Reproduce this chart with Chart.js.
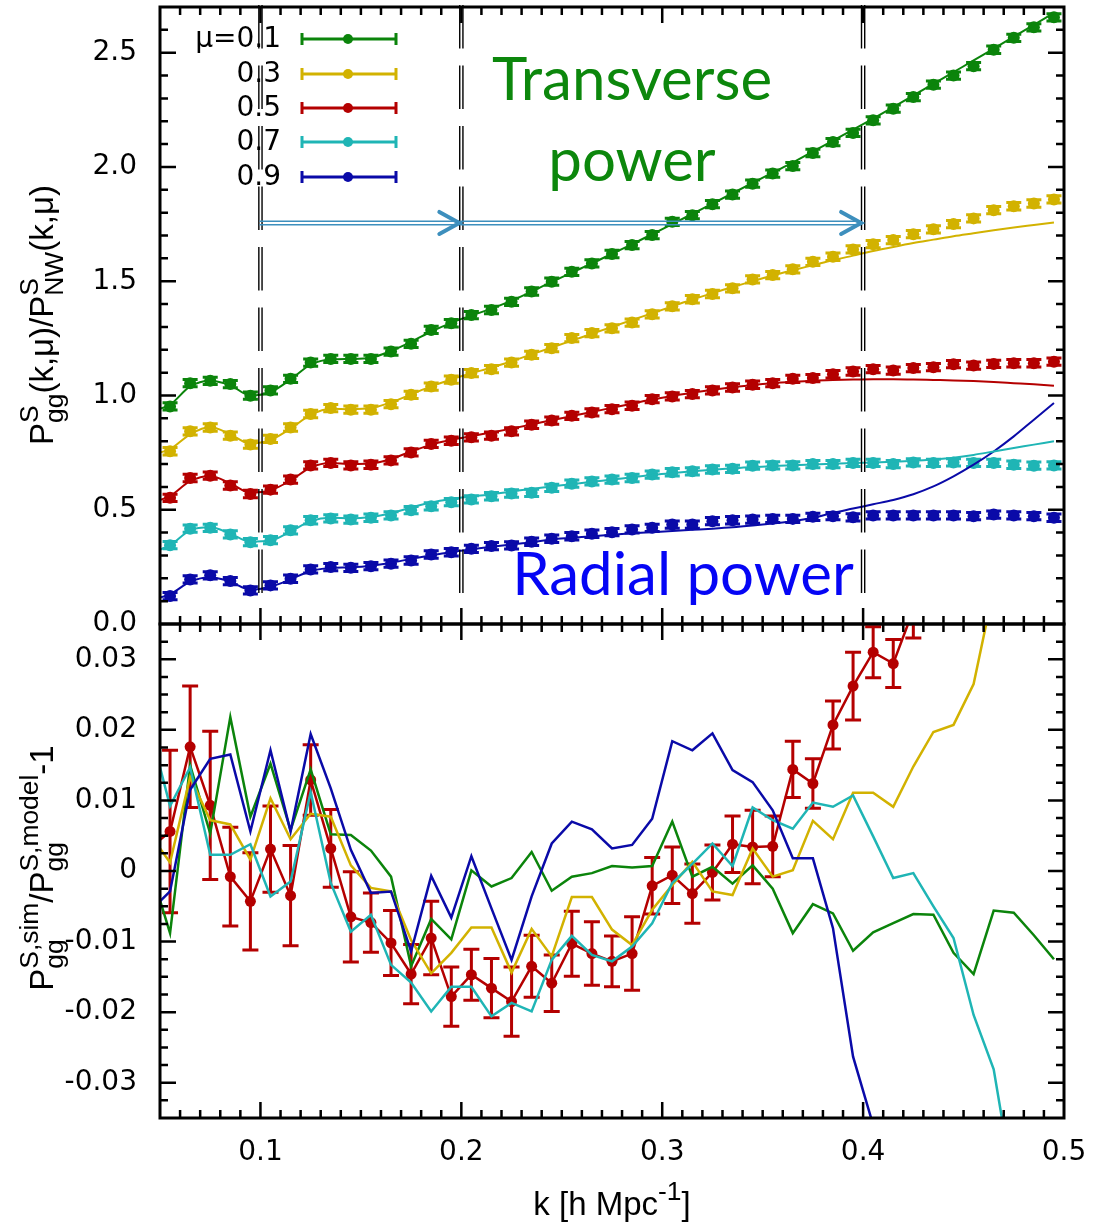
<!DOCTYPE html>
<html>
<head>
<meta charset="utf-8">
<title>Redshift-space galaxy power ratio</title>
<script src="https://cdn.jsdelivr.net/npm/chart.js@4.4.1/dist/chart.umd.min.js"></script>
<style>
  html, body { margin: 0; padding: 0; background: #fff; }
  #wrap { position: relative; width: 1093px; height: 1224px; overflow: hidden; }
  #wrap canvas { position: absolute; left: 0; }
  #topChart { top: -10px; }
  #botChart { top: 600px; }
</style>
</head>
<body>
<div id="wrap">
  <canvas id="topChart" width="1093" height="680"></canvas>
  <canvas id="botChart" width="1093" height="624"></canvas>
</div>
<script>
// k bins [h/Mpc]
const kBins = [0.045, 0.055, 0.065, 0.075, 0.085, 0.095, 0.105, 0.115, 0.125, 0.135,
  0.145, 0.155, 0.165, 0.175, 0.185, 0.195, 0.205, 0.215, 0.225, 0.235,
  0.245, 0.255, 0.265, 0.275, 0.285, 0.295, 0.305, 0.315, 0.325, 0.335,
  0.345, 0.355, 0.365, 0.375, 0.385, 0.395, 0.405, 0.415, 0.425, 0.435,
  0.445, 0.455, 0.465, 0.475, 0.485, 0.495];

const muLabels = ['\u03bc=0.1', '0.3', '0.5', '0.7', '0.9'];
const muColors = ['#0b840b', '#d2b200', '#b40000', '#1fb5b5', '#0a0aa8'];

// tick labels
const kTicks = [0.1, 0.2, 0.3, 0.4, 0.5];
const ratioTicks = [0, 0.5, 1.0, 1.5, 2.0, 2.5];
const resTicks = [-0.03, -0.02, -0.01, 0, 0.01, 0.02, 0.03];

// top panel: simulation points
const simMu01 = [0.920, 0.952, 1.054, 1.064, 1.050, 0.999, 1.022, 1.073, 1.144, 1.160,
  1.160, 1.160, 1.192, 1.226, 1.287, 1.316, 1.352, 1.374, 1.410, 1.455,
  1.498, 1.541, 1.578, 1.619, 1.658, 1.702, 1.760, 1.789, 1.837, 1.879,
  1.927, 1.971, 2.004, 2.061, 2.109, 2.149, 2.204, 2.255, 2.306, 2.360,
  2.400, 2.441, 2.513, 2.565, 2.611, 2.655];
const simMu03 = [0.735, 0.756, 0.843, 0.860, 0.824, 0.785, 0.810, 0.860, 0.919, 0.945,
  0.938, 0.938, 0.962, 1.003, 1.039, 1.069, 1.098, 1.115, 1.144, 1.178,
  1.207, 1.251, 1.273, 1.294, 1.319, 1.355, 1.390, 1.421, 1.444, 1.469,
  1.508, 1.527, 1.552, 1.585, 1.607, 1.639, 1.662, 1.680, 1.706, 1.727,
  1.750, 1.775, 1.811, 1.828, 1.840, 1.858];
const simMu05 = [0.525, 0.552, 0.639, 0.649, 0.606, 0.569, 0.588, 0.632, 0.694, 0.705,
  0.694, 0.697, 0.716, 0.751, 0.788, 0.802, 0.817, 0.824, 0.843, 0.872,
  0.890, 0.911, 0.926, 0.940, 0.955, 0.984, 0.996, 1.006, 1.022, 1.035,
  1.047, 1.054, 1.073, 1.076, 1.093, 1.105, 1.115, 1.109, 1.120, 1.124,
  1.137, 1.131, 1.138, 1.141, 1.141, 1.148];
const simMu07 = [0.305, 0.345, 0.417, 0.421, 0.392, 0.358, 0.367, 0.410, 0.454, 0.462,
  0.457, 0.465, 0.475, 0.498, 0.515, 0.533, 0.545, 0.559, 0.571, 0.574,
  0.596, 0.614, 0.624, 0.632, 0.639, 0.654, 0.664, 0.668, 0.676, 0.679,
  0.693, 0.694, 0.694, 0.700, 0.700, 0.705, 0.705, 0.700, 0.707, 0.705,
  0.707, 0.705, 0.705, 0.697, 0.693, 0.694];
const simMu09 = [0.100, 0.122, 0.195, 0.213, 0.188, 0.147, 0.169, 0.198, 0.239, 0.249,
  0.246, 0.253, 0.264, 0.278, 0.304, 0.314, 0.329, 0.341, 0.344, 0.360,
  0.373, 0.384, 0.395, 0.402, 0.414, 0.421, 0.435, 0.435, 0.450, 0.454,
  0.457, 0.460, 0.460, 0.469, 0.472, 0.467, 0.475, 0.475, 0.475, 0.475,
  0.475, 0.472, 0.479, 0.475, 0.472, 0.465];
const simErr = [0.016, 0.016, 0.016, 0.016, 0.016];

// top panel: model curves
const modelMu01 = [0.930, 0.960, 1.040, 1.065, 1.045, 1.000, 1.015, 1.070, 1.135, 1.158,
  1.160, 1.165, 1.195, 1.235, 1.280, 1.318, 1.350, 1.380, 1.415, 1.455,
  1.497, 1.538, 1.578, 1.620, 1.662, 1.706, 1.750, 1.795, 1.840, 1.885,
  1.930, 1.975, 2.020, 2.068, 2.115, 2.163, 2.212, 2.262, 2.313, 2.364,
  2.415, 2.466, 2.518, 2.570, 2.622, 2.674];
const modelMu03 = [0.740, 0.765, 0.830, 0.862, 0.830, 0.790, 0.805, 0.855, 0.915, 0.942,
  0.940, 0.945, 0.970, 1.005, 1.040, 1.070, 1.097, 1.122, 1.150, 1.180,
  1.210, 1.240, 1.270, 1.300, 1.330, 1.360, 1.390, 1.420, 1.448, 1.475,
  1.500, 1.525, 1.548, 1.570, 1.592, 1.612, 1.632, 1.650, 1.667, 1.682,
  1.697, 1.710, 1.723, 1.735, 1.746, 1.757];
const modelMu05 = [0.530, 0.560, 0.625, 0.648, 0.615, 0.575, 0.585, 0.628, 0.685, 0.705,
  0.700, 0.702, 0.722, 0.755, 0.785, 0.805, 0.822, 0.838, 0.855, 0.873,
  0.892, 0.910, 0.928, 0.946, 0.964, 0.982, 0.998, 1.012, 1.025, 1.036,
  1.046, 1.054, 1.060, 1.065, 1.068, 1.070, 1.071, 1.071, 1.070, 1.068,
  1.066, 1.063, 1.059, 1.054, 1.049, 1.043];
const modelMu07 = [0.310, 0.345, 0.410, 0.423, 0.395, 0.360, 0.365, 0.405, 0.450, 0.465,
  0.462, 0.468, 0.485, 0.510, 0.532, 0.547, 0.558, 0.568, 0.580, 0.592,
  0.602, 0.612, 0.622, 0.632, 0.642, 0.652, 0.660, 0.668, 0.675, 0.681,
  0.687, 0.691, 0.695, 0.698, 0.701, 0.704, 0.707, 0.710, 0.714, 0.720,
  0.728, 0.740, 0.755, 0.770, 0.785, 0.800];
const modelMu09 = [0.105, 0.130, 0.185, 0.205, 0.185, 0.150, 0.163, 0.195, 0.232, 0.245,
  0.248, 0.255, 0.268, 0.285, 0.300, 0.315, 0.327, 0.338, 0.348, 0.358,
  0.370, 0.377, 0.384, 0.391, 0.397, 0.402, 0.407, 0.412, 0.417, 0.423,
  0.431, 0.440, 0.450, 0.465, 0.486, 0.505, 0.524, 0.543, 0.568, 0.602,
  0.646, 0.697, 0.755, 0.821, 0.894, 0.967];

// bottom panel: sim/model - 1
const resMu01 = [0.0005, -0.0088, 0.0150, 0.0053, 0.0218, 0.0077, 0.0152, 0.0058, 0.0144, 0.0052,
  0.0051, 0.0029, -0.0008, -0.0135, -0.0068, -0.0097, 0.0001, -0.0022, -0.0010, 0.0027,
  -0.0028, -0.0008, -0.0003, 0.0007, 0.0005, 0.0007, 0.0070, -0.0008, 0.0006, -0.0018,
  0.0008, -0.0025, -0.0088, -0.0047, -0.0060, -0.0113, -0.0087, -0.0074, -0.0061, -0.0062,
  -0.0116, -0.0146, -0.0056, -0.0059, -0.0091, -0.0125];
const resMu03 = [0.0052, 0.0012, 0.0133, 0.0072, 0.0066, 0.0016, 0.0103, 0.0045, 0.0081, 0.0077,
  0.0008, -0.0024, -0.0029, -0.0098, -0.0145, -0.0116, -0.0080, -0.0080, -0.0144, -0.0082,
  -0.0121, -0.0037, -0.0037, -0.0083, -0.0105, -0.0055, -0.0020, 0.0013, -0.0029, -0.0034,
  0.0032, -0.0008, 0.0001, 0.0071, 0.0045, 0.0111, 0.0111, 0.0091, 0.0148, 0.0197,
  0.0207, 0.0265, 0.0400, null, null, null];
const resMu05 = [0.0032, 0.0056, 0.0176, 0.0093, -0.0008, -0.0043, 0.0031, -0.0035, 0.0129, 0.0032,
  -0.0065, -0.0073, -0.0102, -0.0146, -0.0095, -0.0178, -0.0147, -0.0166, -0.0185, -0.0135,
  -0.0159, -0.0103, -0.0117, -0.0128, -0.0117, -0.0021, -0.0006, -0.0032, -0.0002, 0.0038,
  0.0034, 0.0035, 0.0144, 0.0124, 0.0207, 0.0262, 0.0310, 0.0294, 0.0370, null,
  null, null, null, null, null, null];
const errMu05 = [0.0110, 0.0115, 0.0086, 0.0105, 0.0070, 0.0069, 0.0061, 0.0071, 0.0050, 0.0055,
  0.0064, 0.0042, 0.0046, 0.0042, 0.0052, 0.0042, 0.0036, 0.0042, 0.0049, 0.0044,
  0.0040, 0.0046, 0.0045, 0.0036, 0.0052, 0.0040, 0.0040, 0.0042, 0.0039, 0.0040,
  0.0052, 0.0043, 0.0040, 0.0035, 0.0034, 0.0048, 0.0036, 0.0034, 0.0040, null,
  null, null, null, null, null, null];
const resMu07 = [0.0202, 0.0092, 0.0147, 0.0023, 0.0023, 0.0038, -0.0036, -0.0015, 0.0112, -0.0017,
  -0.0086, -0.0062, -0.0133, -0.0158, -0.0199, -0.0164, -0.0164, -0.0206, -0.0187, -0.0199,
  -0.0126, -0.0092, -0.0119, -0.0128, -0.0107, -0.0074, -0.0017, 0.0010, 0.0039, 0.0007,
  0.0090, 0.0072, 0.0060, 0.0097, 0.0091, 0.0107, 0.0049, -0.0010, -0.0003, -0.0050,
  -0.0095, -0.0204, -0.0281, -0.0450, null, null];
const resMu09 = [-0.0057, -0.0029, 0.0115, 0.0159, 0.0165, 0.0056, 0.0171, 0.0056, 0.0194, 0.0117,
  0.0030, -0.0031, -0.0029, -0.0114, -0.0007, -0.0066, 0.0021, -0.0053, -0.0126, -0.0036,
  0.0039, 0.0070, 0.0059, 0.0032, 0.0037, 0.0074, 0.0184, 0.0171, 0.0195, 0.0143,
  0.0126, 0.0086, 0.0018, 0.0018, -0.0081, -0.0263, -0.0360, null, null, null,
  null, null, null, null, null, null];

// vertical k markers and arrow level (top panel)
const kMarks = [0.1, 0.2, 0.4];
const arrowLevel = 1.755;

const TOP_SHIFT = 10;   // top canvas sits 10px above the page
const BOT_SHIFT = 600;  // bottom canvas offset
const tickFont = { family: 'DejaVu Sans', size: 28 };
const titleFamily = 'Liberation Sans';

const pts = ys => kBins.map((k, i) => ({ x: k, y: ys[i] }));

// ---------- helpers ----------
function richRun(ctx, parts, size, draw) {
  let x = 0;
  const small = size * 0.8;
  for (const p of parts) {
    if (typeof p === 'string') {
      ctx.font = size + 'px "' + titleFamily + '"';
      if (draw) ctx.fillText(p, x, 0);
      x += ctx.measureText(p).width;
    } else {
      ctx.font = small + 'px "' + titleFamily + '"';
      let w = 0;
      if (p.sup) { if (draw) ctx.fillText(p.sup, x, -size * 0.45); w = Math.max(w, ctx.measureText(p.sup).width); }
      if (p.sub) { if (draw) ctx.fillText(p.sub, x, size * 0.3); w = Math.max(w, ctx.measureText(p.sub).width); }
      x += w;
    }
  }
  return x;
}

function richText(ctx, parts, cx, cy, size, rot) {
  ctx.save();
  ctx.translate(cx, cy);
  if (rot) ctx.rotate(rot);
  ctx.textAlign = 'left';
  ctx.textBaseline = 'alphabetic';
  ctx.fillStyle = '#000';
  const w = richRun(ctx, parts, size, false);
  ctx.translate(-w / 2, 0);
  richRun(ctx, parts, size, true);
  ctx.restore();
}

// fixed tick list + no extra layout padding from labels
function fixedAxis(list, size) {
  return {
    afterBuildTicks(s) { s.ticks = list.map(v => ({ value: v })); },
    afterFit(s) {
      if (size.width != null) s.width = size.width;
      if (size.height != null) s.height = size.height;
      s.paddingTop = 0; s.paddingBottom = 0; s.paddingLeft = 0; s.paddingRight = 0;
    }
  };
}

// error bars for datasets that carry an `errs` array
const errorBars = {
  id: 'errorBars',
  beforeDatasetDraw(chart, args) {
    const ds = chart.data.datasets[args.index];
    if (!ds.errs) return;
    const { ctx, chartArea: a } = chart;
    const ys = chart.scales.y;
    ctx.save();
    ctx.beginPath();
    ctx.rect(a.left, a.top, a.right - a.left, a.bottom - a.top);
    ctx.clip();
    ctx.strokeStyle = ds.backgroundColor;
    ctx.lineWidth = ds.errWidth;
    args.meta.data.forEach((el, i) => {
      const v = ds.data[i].y, e = ds.errs[i];
      if (v == null || e == null) return;
      const y1 = ys.getPixelForValue(v - e), y2 = ys.getPixelForValue(v + e);
      const c = ds.capHalf;
      ctx.beginPath();
      ctx.moveTo(el.x, y1); ctx.lineTo(el.x, y2);
      ctx.moveTo(el.x - c, y1); ctx.lineTo(el.x + c, y1);
      ctx.moveTo(el.x - c, y2); ctx.lineTo(el.x + c, y2);
      ctx.stroke();
    });
    ctx.restore();
  }
};

// frame with inward major/minor ticks on all sides
function framePlugin(cfg) {
  return {
    id: 'frame',
    afterDatasetsDraw(chart) {
      const { ctx, chartArea: a, scales: { x, y } } = chart;
      ctx.save();
      ctx.strokeStyle = '#000';
      ctx.lineWidth = 2.5;
      ctx.beginPath();
      for (let i = cfg.xFrom; i <= cfg.xTo; i++) {
        const px = x.getPixelForValue(i * cfg.xStep);
        const len = i % cfg.xEvery === 0 ? 16 : 8;
        ctx.moveTo(px, a.top); ctx.lineTo(px, a.top + len);
        ctx.moveTo(px, a.bottom); ctx.lineTo(px, a.bottom - len);
      }
      for (let j = cfg.yFrom; j <= cfg.yTo; j++) {
        const py = y.getPixelForValue(j * cfg.yStep);
        const len = j % cfg.yEvery === 0 ? 16 : 8;
        ctx.moveTo(a.left, py); ctx.lineTo(a.left + len, py);
        ctx.moveTo(a.right, py); ctx.lineTo(a.right - len, py);
      }
      ctx.stroke();
      ctx.lineWidth = 3;
      ctx.strokeRect(a.left, a.top, a.right - a.left, a.bottom - a.top);
      ctx.restore();
    }
  };
}

const topDecor = {
  id: 'topDecor',
  afterDatasetsDraw(chart) {
    const { ctx, chartArea: a, scales: { x, y } } = chart;
    ctx.save();
    // double dashed lines
    ctx.strokeStyle = '#000';
    ctx.lineWidth = 1.4;
    ctx.setLineDash([43.5, 17]);
    kMarks.forEach(k => {
      const px = x.getPixelForValue(k);
      [-1.6, 1.6].forEach(d => {
        ctx.beginPath();
        ctx.moveTo(px + d, a.top - 2);
        ctx.lineTo(px + d, a.bottom - 29);
        ctx.stroke();
      });
    });
    ctx.setLineDash([]);

    // arrows
    const ay = y.getPixelForValue(arrowLevel);
    ctx.strokeStyle = '#3d8fbd';
    for (let i = 0; i + 1 < kMarks.length; i++) {
      const x0 = x.getPixelForValue(kMarks[i]) - 1;
      const tip = x.getPixelForValue(kMarks[i + 1]) - 2;
      ctx.lineWidth = 1.5;
      ctx.beginPath();
      ctx.moveTo(x0, ay - 1.8); ctx.lineTo(tip, ay - 1.8);
      ctx.moveTo(x0, ay + 1.8); ctx.lineTo(tip, ay + 1.8);
      ctx.stroke();
      ctx.lineWidth = 4;
      ctx.lineCap = 'round';
      ctx.beginPath();
      ctx.moveTo(tip - 20, ay - 11);
      ctx.lineTo(tip, ay);
      ctx.lineTo(tip - 20, ay + 11);
      ctx.stroke();
      ctx.lineCap = 'butt';
    }

    // page coordinates from here
    ctx.translate(0, TOP_SHIFT);

    // legend
    const rowY = [39, 74, 108, 142, 177];
    ctx.font = '28px "DejaVu Sans"';
    ctx.textAlign = 'right';
    ctx.textBaseline = 'middle';
    muLabels.forEach((lab, i) => {
      const ry = rowY[i];
      ctx.fillStyle = '#000';
      ctx.fillText(lab, 281, ry + 1);
      ctx.strokeStyle = muColors[i];
      ctx.fillStyle = muColors[i];
      ctx.lineWidth = 3;
      ctx.beginPath();
      ctx.moveTo(302, ry); ctx.lineTo(396, ry);
      ctx.moveTo(302, ry - 6); ctx.lineTo(302, ry + 6);
      ctx.moveTo(396, ry - 6); ctx.lineTo(396, ry + 6);
      ctx.stroke();
      ctx.beginPath();
      ctx.arc(348, ry, 5, 0, Math.PI * 2);
      ctx.fill();
    });

    // annotations
    ctx.font = '60px Lato';
    ctx.textAlign = 'center';
    ctx.textBaseline = 'alphabetic';
    ctx.fillStyle = '#0c870c';
    ctx.fillText('Transverse', 632, 100);
    ctx.fillText('power', 632, 181);
    ctx.fillStyle = '#0505f5';
    ctx.fillText('Radial power', 683, 595);

    // y title
    richText(ctx, ['P', { sup: 'S', sub: 'gg' }, '(k,\u03bc)/P', { sup: 'S', sub: 'NW' }, '(k,\u03bc)'],
      53, 315, 33, -Math.PI / 2);
    ctx.restore();
  }
};

const botDecor = {
  id: 'botDecor',
  afterDraw(chart) {
    const ctx = chart.ctx;
    ctx.save();
    ctx.translate(0, -BOT_SHIFT);
    richText(ctx, ['P', { sup: 'S,sim', sub: 'gg' }, '/P', { sup: 'S,model', sub: 'gg' }, '-1'],
      53, 868, 33, -Math.PI / 2);
    richText(ctx, ['k [h Mpc', { sup: '-1' }, ']'], 612, 1215, 33, 0);
    ctx.restore();
  }
};

const baseOpts = {
  responsive: false,
  animation: false,
  events: [],
  plugins: { legend: { display: false }, tooltip: { enabled: false } }
};

// ---------- top panel ----------
const simSets = [simMu01, simMu03, simMu05, simMu07, simMu09];
const modelSets = [modelMu01, modelMu03, modelMu05, modelMu07, modelMu09];
const topDatasets = [];
modelSets.forEach((m, i) => topDatasets.push({
  data: pts(m), showLine: true, borderColor: muColors[i], borderWidth: 2,
  pointRadius: 0, cubicInterpolationMode: 'monotone', fill: false
}));
simSets.forEach((s, i) => topDatasets.push({
  data: pts(s), showLine: false, backgroundColor: muColors[i], borderColor: muColors[i],
  pointRadius: 6, pointBorderWidth: 0, pointHoverRadius: 6,
  errs: kBins.map(() => simErr[i]), errWidth: 3, capHalf: 7.5
}));

new Chart(document.getElementById('topChart'), {
  type: 'scatter',
  data: { datasets: topDatasets },
  options: Object.assign({}, baseOpts, {
    layout: { padding: { top: 17, right: 29, bottom: 46, left: 0 } },
    scales: {
      x: { type: 'linear', min: 0.05, max: 0.5, display: false },
      y: Object.assign({
        type: 'linear', min: 0, max: 2.7,
        grid: { display: false, drawTicks: false }, border: { display: false },
        ticks: { padding: 23, color: '#000', font: tickFont, callback: v => v.toFixed(1) }
      }, fixedAxis(ratioTicks, { width: 160 }))
    }
  }),
  plugins: [errorBars, framePlugin({ xStep: 0.01, xFrom: 6, xTo: 49, xEvery: 10,
    yStep: 0.1, yFrom: 1, yTo: 26, yEvery: 5 }), topDecor]
});

// ---------- bottom panel ----------
const lineSet = (ys, c) => ({ data: pts(ys), showLine: true, borderColor: c, backgroundColor: c,
  borderWidth: 2.5, pointRadius: 0, tension: 0, fill: false });
const botDatasets = [
  lineSet(resMu09, muColors[4]),
  lineSet(resMu07, muColors[3]),
  lineSet(resMu03, muColors[1]),
  lineSet(resMu01, muColors[0]),
  Object.assign(lineSet(resMu05, muColors[2]), {
    pointRadius: 5.5, pointBorderWidth: 0, pointHoverRadius: 5.5,
    errs: errMu05, errWidth: 3, capHalf: 8
  })
];

new Chart(document.getElementById('botChart'), {
  type: 'scatter',
  data: { datasets: botDatasets },
  options: Object.assign({}, baseOpts, {
    layout: { padding: { top: 24, right: 29, bottom: 0, left: 0 } },
    scales: {
      x: Object.assign({
        type: 'linear', min: 0.05, max: 0.5,
        grid: { display: false, drawTicks: false }, border: { display: false },
        ticks: { autoSkip: false, maxRotation: 0, padding: 18,
          color: '#000', font: tickFont, callback: v => v.toFixed(1) }
      }, fixedAxis(kTicks, { height: 106 })),
      y: Object.assign({
        type: 'linear', min: -0.035, max: 0.035,
        grid: { display: false, drawTicks: false }, border: { display: false },
        ticks: { padding: 23, color: '#000', font: tickFont,
          callback: v => Math.abs(v) < 1e-9 ? '0' : v.toFixed(2) }
      }, fixedAxis(resTicks, { width: 160 }))
    }
  }),
  plugins: [errorBars, framePlugin({ xStep: 0.01, xFrom: 6, xTo: 49, xEvery: 10,
    yStep: 0.0025, yFrom: -13, yTo: 13, yEvery: 4 }), botDecor]
});
</script>
</body>
</html>
